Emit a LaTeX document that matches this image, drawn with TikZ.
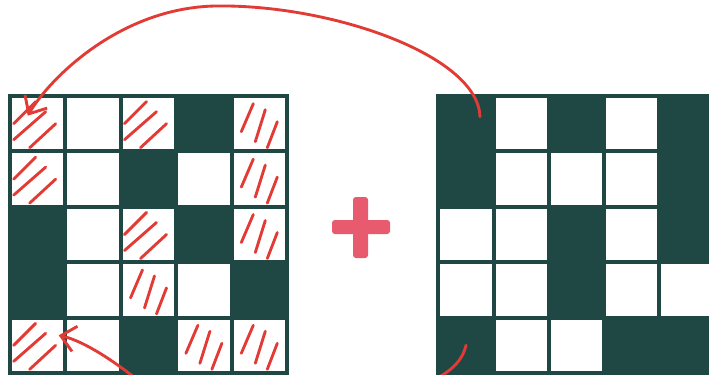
\documentclass[tikz,border=0pt]{standalone}
\usetikzlibrary{arrows.meta}
\definecolor{tealx}{HTML}{1F4744}
\definecolor{redx}{HTML}{E23B36}
\definecolor{pinkx}{HTML}{E85B6E}
\tikzset{
  cell/.style={draw=tealx,line width=1.4mm,minimum size=19.4mm,inner sep=0pt,outer sep=0pt,fill=white},
  wh/.style={},
  dk/.style={fill=tealx},
  scr/.style={redx,line width=1mm,line cap=round},
  hs/.style={path picture={\begin{scope}[shift={(path picture bounding box.center)}]
    \draw[scr] (-24,0)--(-2,-22) (-24,16)--(8,-12) (-8,24)--(18,0);
    \end{scope}}},
  hv/.style={path picture={\begin{scope}[shift={(path picture bounding box.center)}]
    \draw[scr] (-18,8)--(-6,-20) (-4,18)--(6,-14) (8,24)--(18,-2);
    \end{scope}}},
  ar/.style={redx,line width=1mm,line cap=round,-{Straight Barb[length=5mm,width=9mm]}}
}
\begin{document}
\begin{tikzpicture}[x=0.35mm,y=-0.35mm]
\clip (0,0) rectangle (709,374);
\foreach \row [count=\r from 0] in {{hs,wh,hs,dk,hv},{hs,wh,dk,wh,hv},{dk,wh,hs,dk,hv},{dk,wh,hv,wh,dk},{hs,wh,dk,hv,hv}}
  \foreach \k [count=\c from 0] in \row
    \node[cell,\k] (L-\r-\c) at ({37.7+55.4*\c},{123.7+55.4*\r}) {};
\foreach \row [count=\r from 0] in {{dk,wh,dk,wh,dk},{dk,wh,wh,wh,dk},{wh,wh,dk,wh,dk},{wh,wh,dk,wh,wh},{dk,wh,wh,dk,dk}}
  \foreach \k [count=\c from 0] in \row
    \node[cell,\k] (R-\r-\c) at ({466+55.3*\c},{123.7+55.4*\r}) {};
\fill[pinkx,rounded corners=1mm] (332,220) rectangle (390,234);
\fill[pinkx,rounded corners=1mm] (353,197) rectangle (368,258);
\coordinate (bl) at (140,382);
\coordinate (br) at (430,382);
\draw[ar] ([shift={(14,-7)}]R-0-0.center) .. controls (478,55) and (330,4) .. (215,6)
  .. controls (120,8) and (50,78) .. ([shift={(-10,-8)}]L-0-0.center);
\draw[ar] (bl) .. controls (108,356) and (80,340) .. ([shift={(21,-10)}]L-4-0.center);
\draw[scr] (R-4-0.center) .. controls (462,362) and (450,372) .. (br);
\end{tikzpicture}
\end{document}
